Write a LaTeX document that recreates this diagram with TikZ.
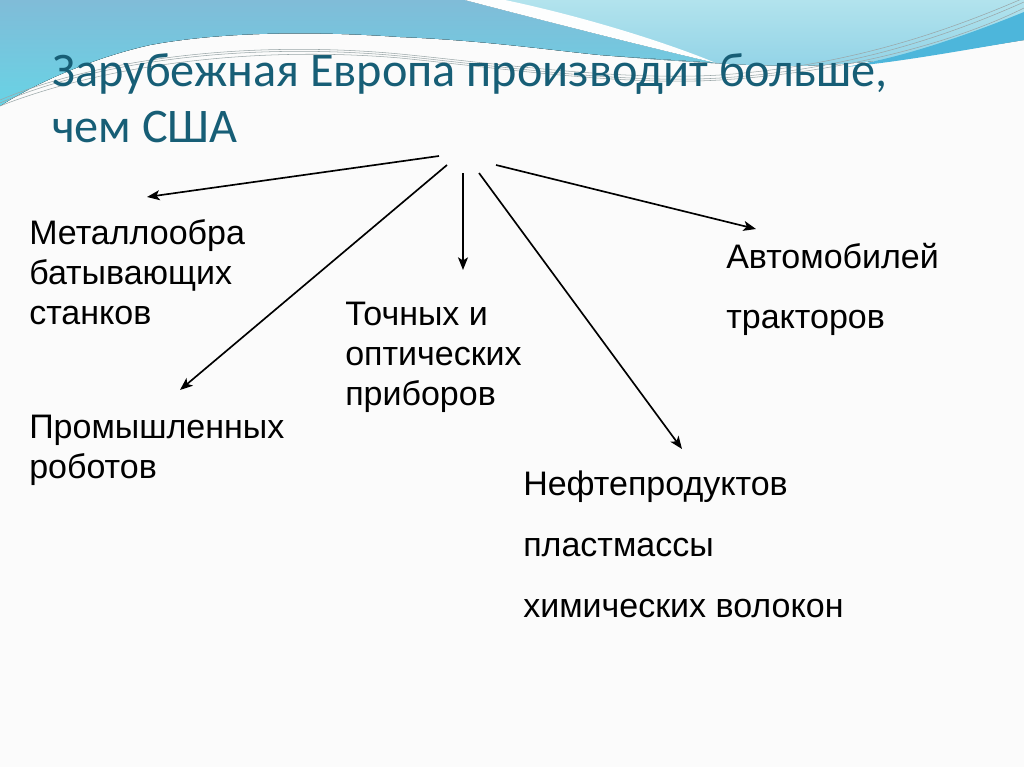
\documentclass[tikz,border=0pt]{standalone}
\usepackage{fontspec}
\setmainfont{Liberation Sans}
\newfontfamily\titlefont{Carlito}
\usetikzlibrary{arrows.meta}
\definecolor{titleteal}{HTML}{175E76}
\definecolor{bgwhite}{HTML}{FBFBFB}
\definecolor{bluetop}{HTML}{80BCD8}
\definecolor{bluebot}{HTML}{68D3E5}
\definecolor{cyantop}{HTML}{B2E3ED}
\definecolor{cyanbot}{HTML}{80CAE3}
\definecolor{deepband}{HTML}{4DB6DB}
\definecolor{swoosh}{HTML}{FDFEFE}
\definecolor{thinline}{HTML}{9AA6A8}
\tikzset{
  bodytext/.style={inner sep=0pt, anchor=base west, font=\fontsize{25.5}{30}\selectfont, text=black},
  titletext/.style={inner sep=0pt, anchor=base west, font=\titlefont\fontsize{36.2}{42.75}\selectfont, text=titleteal},
  arrowline/.style={line width=1.25pt, draw=black, -{Stealth[length=9.5pt,width=7.5pt,inset=2.4pt]}},
  greyline/.style={draw=thinline, line width=0.4pt}
}
\begin{document}
\begin{tikzpicture}[x=0.75pt,y=-0.75pt]
\useasboundingbox (0,0) rectangle (1024,767);
\fill[bgwhite] (0,0) rectangle (1024,767);
% top light cyan region (everything above the white body)
\fill[top color=cyantop, bottom color=cyanbot]
  (0,0) -- (1024,0) -- (1024,40)
  .. controls (960,50) and (880,64) .. (800,66)
  .. controls (740,66) and (660,60) .. (600,55)
  .. controls (550,50) and (480,40) .. (400,37)
  .. controls (330,32) and (230,30) .. (150,45)
  .. controls (100,56) and (40,80) .. (0,106) -- cycle;
% deep blue band at the right
\fill[deepband]
  (1024,12) .. controls (960,38) and (900,58) .. (845,67)
  .. controls (900,62) and (965,50) .. (1024,40) -- cycle;
% left blue region
\fill[top color=bluetop, bottom color=bluebot]
  (0,0) -- (465,0)
  .. controls (560,25) and (660,50) .. (716,63)
  .. controls (680,60) and (640,58) .. (600,55)
  .. controls (550,50) and (480,40) .. (400,37)
  .. controls (330,32) and (230,30) .. (150,45)
  .. controls (100,56) and (40,80) .. (0,106) -- cycle;
% white swoosh stripe
\fill[swoosh]
  (465,0) .. controls (560,25) and (660,50) .. (716,63)
  .. controls (670,44) and (590,18) .. (505,0) -- cycle;
% thin grey lines
\draw[greyline] (0,103) .. controls (100,60) and (250,42) .. (400,56)
  .. controls (500,66) and (620,84) .. (720,78)
  .. controls (850,70) and (950,35) .. (1024,2);
\draw[greyline] (0,100) .. controls (100,58) and (250,40) .. (400,54)
  .. controls (500,64) and (620,81) .. (720,75)
  .. controls (850,66) and (950,30) .. (1024,-2);
\draw[greyline] (0,106) .. controls (110,63) and (260,46) .. (400,58)
  .. controls (500,68) and (620,86) .. (720,80)
  .. controls (850,72) and (960,40) .. (1024,8);
% title
\node[titletext] (title) at (52,86) {\begin{tabular}[t]{@{}l@{}}Зарубежная Европа производит больше,\\ чем США\end{tabular}};
% items
\node[bodytext] (metal) at (29,244) {\begin{tabular}[t]{@{}l@{}}Металлообра\\ батывающих\\ станков\end{tabular}};
\node[bodytext] (robot) at (29,438) {\begin{tabular}[t]{@{}l@{}}Промышленных\\ роботов\end{tabular}};
\node[bodytext] (optic) at (345,325) {\begin{tabular}[t]{@{}l@{}}Точных и\\ оптических\\ приборов\end{tabular}};
\node[bodytext] (auto) at (726,268) {\fontsize{25.5}{45}\selectfont\begin{tabular}[t]{@{}l@{}}Автомобилей\\ тракторов\end{tabular}};
\node[bodytext] (oil) at (523,495) {\fontsize{25.5}{45.75}\selectfont\begin{tabular}[t]{@{}l@{}}Нефтепродуктов\\ пластмассы\\ химических волокон\end{tabular}};
% arrow ends
\coordinate (s1) at (439,156); \coordinate (e1) at (147,197);
\coordinate (s2) at (447,165); \coordinate (e2) at (180,390);
\coordinate (s3) at (463,173); \coordinate (e3) at (463,270);
\coordinate (s4) at (479,173); \coordinate (e4) at (682,449);
\coordinate (s5) at (496,165); \coordinate (e5) at (756,229);
\draw[arrowline] (s1) -- (e1);
\draw[arrowline] (s2) -- (e2);
\draw[arrowline] (s3) -- (e3);
\draw[arrowline] (s4) -- (e4);
\draw[arrowline] (s5) -- (e5);
\end{tikzpicture}
\end{document}
